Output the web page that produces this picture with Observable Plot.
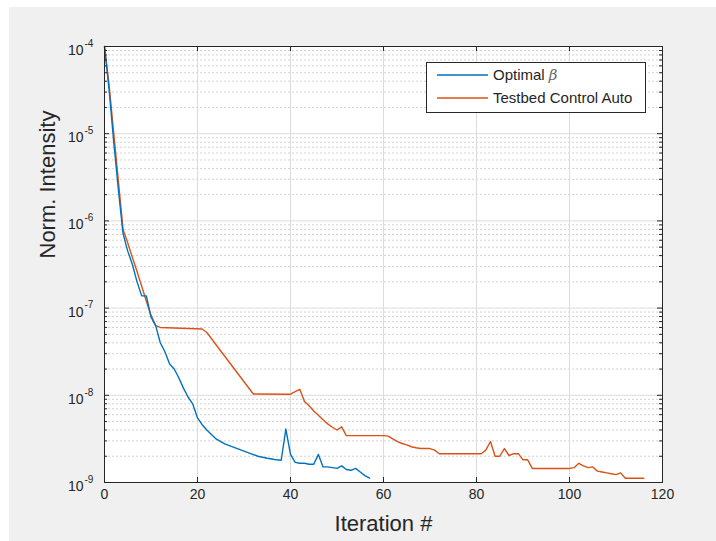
<!DOCTYPE html>
<html>
<head>
<meta charset="utf-8">
<script src="https://cdn.jsdelivr.net/npm/d3@7"></script>
<script src="https://cdn.jsdelivr.net/npm/@observablehq/plot@0.6"></script>
<style>
  html { margin: 0; padding: 0; background: #f0f0f0; overflow: hidden; width: 100%; height: 100%; }
  body { margin: 0; padding: 0; background: #f0f0f0; overflow: hidden; width: 100vw; height: 100vh; }
  #topband { position: fixed; left: 0; top: 0; width: 100vw; height: 7px; background: #ffffff; }
  #leftband { position: fixed; left: 0; top: 0; width: 9px; height: 100vh; background: #ffffff; }
  #chart { position: absolute; left: 9px; top: 7px; width: 707px; height: 534px; }
  #chart svg { display: block; }
</style>
</head>
<body>
<div id="topband"></div>
<div id="leftband"></div>
<div id="chart"></div>
<script>
// ---- Data ----
const seriesNames = ["Optimal β", "Testbed Control Auto"];

const iterOptimal = [0,1,2,3,4,5,6,7,8,9,10,11,12,13,14,15,16,17,18,19,20,21,22,23,24,25,26,27,28,29,30,31,32,33,34,35,36,37,38,39,40,41,42,43,44,45,46,47,48,49,50,51,52,53,54,55,56,57];
const optimalBeta = [1.0e-4,3.16e-5,7.9e-6,2.24e-6,7.1e-7,4.5e-7,3.16e-7,2.0e-7,1.38e-7,1.38e-7,7.9e-8,6.3e-8,4.0e-8,3.16e-8,2.29e-8,2.0e-8,1.58e-8,1.2e-8,9.5e-9,7.9e-9,5.5e-9,4.6e-9,4.0e-9,3.55e-9,3.16e-9,2.95e-9,2.75e-9,2.63e-9,2.51e-9,2.4e-9,2.29e-9,2.19e-9,2.09e-9,2.0e-9,1.95e-9,1.9e-9,1.86e-9,1.82e-9,1.8e-9,4.1e-9,2.1e-9,1.7e-9,1.66e-9,1.66e-9,1.62e-9,1.62e-9,2.1e-9,1.51e-9,1.51e-9,1.48e-9,1.45e-9,1.55e-9,1.41e-9,1.38e-9,1.45e-9,1.32e-9,1.2e-9,1.12e-9];

const iterTestbed = [0,1,2,3,4,5,6,7,8,9,10,11,12,21,22,32,40,41,42,43,44,45,46,47,48,49,50,51,52,60,61,62,63,64,65,66,67,68,70,71,72,81,82,83,84,85,86,87,88,89,90,91,92,100,101,102,103,104,105,106,107,108,109,110,111,112,116];
const testbedAuto = [1.0e-4,3.55e-5,1.0e-5,2.8e-6,7.9e-7,5.6e-7,3.8e-7,2.63e-7,1.78e-7,1.2e-7,8.3e-8,6.3e-8,6.0e-8,5.75e-8,5.25e-8,1.035e-8,1.03e-8,1.1e-8,1.17e-8,8.5e-9,7.6e-9,6.6e-9,5.9e-9,5.25e-9,4.7e-9,4.3e-9,4.0e-9,4.35e-9,3.45e-9,3.45e-9,3.4e-9,3.16e-9,2.95e-9,2.8e-9,2.7e-9,2.57e-9,2.5e-9,2.45e-9,2.45e-9,2.35e-9,2.14e-9,2.14e-9,2.35e-9,2.95e-9,2.0e-9,2.0e-9,2.45e-9,2.04e-9,2.14e-9,2.14e-9,1.82e-9,1.82e-9,1.45e-9,1.45e-9,1.48e-9,1.66e-9,1.55e-9,1.48e-9,1.51e-9,1.35e-9,1.32e-9,1.29e-9,1.26e-9,1.23e-9,1.29e-9,1.12e-9,1.12e-9];

const xTicks = [0, 20, 40, 60, 80, 100, 120];
const yDecadeExponents = [-9, -8, -7, -6, -5, -4];
const xLabel = "Iteration #";
const yLabel = "Norm. Intensity";

const colors = ["#0072BD", "#D95319"];

// ---- Build tables ----
const optimalData = iterOptimal.map((x, i) => ({x, y: optimalBeta[i]}));
const testbedData = iterTestbed.map((x, i) => ({x, y: testbedAuto[i]}));
const decades = yDecadeExponents.map(e => Math.pow(10, e));
const minorTicks = [];
for (const e of yDecadeExponents.slice(0, -1)) {
  for (let k = 2; k <= 9; k++) minorTicks.push(k * Math.pow(10, e));
}
const xGrid = xTicks.slice(1, -1);

// ---- Layout ----
const W = 707, H = 534, ML = 95, MR = 54, MT = 39, MB = 59;
const innerW = W - ML - MR, innerH = H - MT - MB;
const ink = "#262626";

const chart = Plot.plot({
  width: W, height: H,
  marginLeft: ML, marginRight: MR, marginTop: MT, marginBottom: MB,
  style: {background: "#f0f0f0", fontFamily: "'Liberation Sans', Arial, Helvetica, sans-serif", overflow: "visible"},
  x: {domain: [0, 120], axis: null},
  y: {type: "log", domain: [1e-9, 1e-4], axis: null},
  marks: [
    Plot.frame({fill: "white", stroke: "none"}),
    // grid
    Plot.ruleY(minorTicks, {y: d => d, stroke: "#d2d2d2", strokeDasharray: "2,2", strokeWidth: 1}),
    Plot.ruleY(decades, {y: d => d, stroke: "#dcdcdc", strokeWidth: 1}),
    Plot.ruleX(xGrid, {x: d => d, stroke: "#dcdcdc", strokeWidth: 1}),
    // series
    Plot.line(testbedData, {x: "x", y: "y", stroke: colors[1], strokeWidth: 1.4}),
    Plot.line(optimalData, {x: "x", y: "y", stroke: colors[0], strokeWidth: 1.4}),
    // inward ticks (bottom/top)
    Plot.ruleX(xTicks, {x: d => d, insetTop: innerH - 5, stroke: ink}),
    Plot.ruleX(xTicks, {x: d => d, insetBottom: innerH - 5, stroke: ink}),
    // inward ticks (left/right)
    Plot.ruleY(decades, {y: d => d, insetRight: innerW - 5, stroke: ink}),
    Plot.ruleY(decades, {y: d => d, insetLeft: innerW - 5, stroke: ink}),
    Plot.ruleY(minorTicks, {y: d => d, insetRight: innerW - 3, stroke: ink}),
    Plot.ruleY(minorTicks, {y: d => d, insetLeft: innerW - 3, stroke: ink}),
    Plot.frame({stroke: ink, strokeWidth: 1}),
    // x tick labels
    Plot.text(xTicks, {x: d => d, frameAnchor: "bottom", dy: 16, text: d => String(d), fontSize: 14, fill: ink}),
    // y tick labels: 10 with superscript exponent
    Plot.text(yDecadeExponents, {y: e => Math.pow(10, e), frameAnchor: "left", dx: -21, dy: 4, textAnchor: "end", text: () => "10", fontSize: 14, fill: ink}),
    Plot.text(yDecadeExponents, {y: e => Math.pow(10, e), frameAnchor: "left", dx: -20, dy: -3, textAnchor: "start", text: e => String(e), fontSize: 10, fill: ink}),
    // axis titles
    Plot.text([xLabel], {frameAnchor: "bottom", dy: 48, text: d => d, fontSize: 22, fill: ink}),
    Plot.text([yLabel], {frameAnchor: "left", dx: -57, dy: -6, rotate: -90, text: d => d, fontSize: 22, fill: ink})
  ]
});

// ---- Legend (drawn into the same SVG) ----
const svg = d3.select(chart);
const lg = svg.append("g")
  .attr("font-family", "'Liberation Sans', Arial, Helvetica, sans-serif")
  .attr("font-size", 15)
  .attr("text-anchor", "start");
lg.append("rect").attr("x", 417.5).attr("y", 55.5).attr("width", 219).attr("height", 50)
  .attr("fill", "white").attr("stroke", ink).attr("stroke-width", 1);
const rowsY = [68, 91];
seriesNames.forEach((name, i) => {
  lg.append("line").attr("x1", 428).attr("x2", 479).attr("y1", rowsY[i]).attr("y2", rowsY[i])
    .attr("stroke", colors[i]).attr("stroke-width", 1.4);
  const t = lg.append("text").attr("x", 484).attr("y", rowsY[i]).attr("dy", "0.35em")
    .attr("text-anchor", "start").attr("fill", ink);
  if (name.endsWith("β")) {
    t.append("tspan").text(name.slice(0, -1));
    t.append("tspan").attr("font-style", "italic").attr("font-family", "'DejaVu Serif', serif").attr("fill", "#666").text("β");
  } else {
    t.text(name);
  }
});

document.getElementById("chart").appendChild(chart);
</script>
</body>
</html>
